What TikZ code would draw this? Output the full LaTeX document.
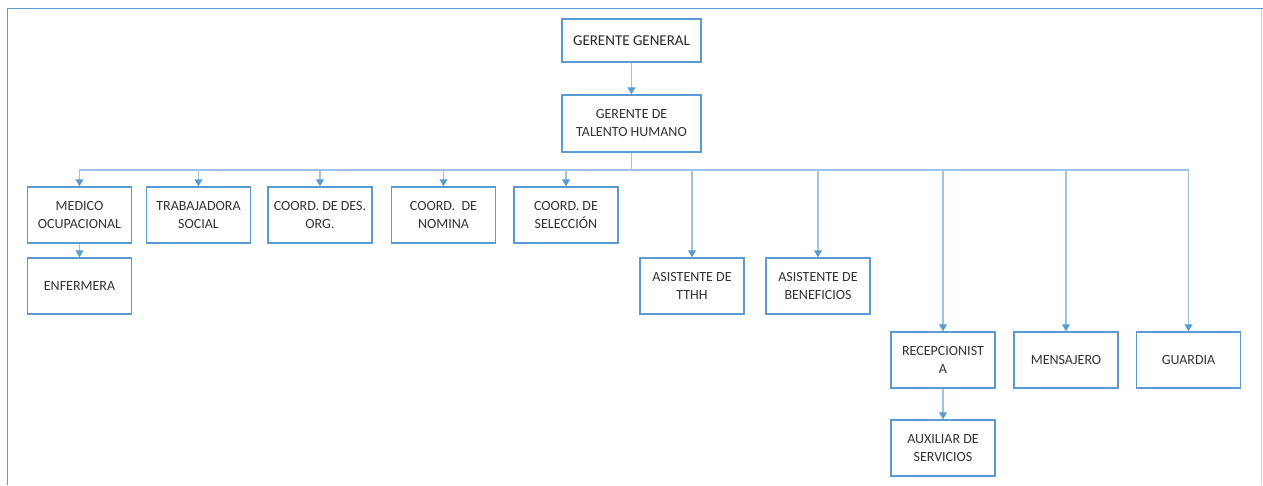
\documentclass[tikz,border=0pt]{standalone}
\usepackage{fontspec}
\setmainfont{Carlito}
\usetikzlibrary{arrows.meta}
\definecolor{boxblue}{HTML}{5B9BD5}
\definecolor{linkblue}{HTML}{9DC3E6}
\definecolor{edgeblue}{HTML}{BDD7EE}
\definecolor{txt}{HTML}{333333}

\begin{document}
\begin{tikzpicture}[x=1pt,y=-1pt,
  unit/.style={draw=boxblue, line width=1.5pt, fill=white,
    minimum width=104pt, minimum height=56pt, align=center, text=txt,
    font=\fontsize{14}{18}\selectfont, inner sep=0pt},
  link/.style={draw=linkblue, line width=1.2pt,
    -{Triangle[width=8pt,length=7pt,color=boxblue]}}]

\useasboundingbox (0,0) rectangle (1263,485);

% page frame
\draw[boxblue, line width=1.5pt] (7.5,485) -- (7.5,8.5) -- (1263,8.5);
\draw[edgeblue, line width=1.2pt] (1261.5,8.5) -- (1261.5,485);

% top management
\node[unit, minimum width=139pt, minimum height=43pt,
      font=\fontsize{15}{18}\selectfont, text=black!85] (gg) at (631.5,40.5) {GERENTE GENERAL};
\node[unit, minimum width=139pt, minimum height=57pt] (gth) at (631.5,123.5) {GERENTE DE\\TALENTO HUMANO};

% first row
\node[unit] (med)  at (79.5,215)  {MEDICO\\OCUPACIONAL};
\node[unit] (trab) at (198.5,215) {TRABAJADORA\\SOCIAL};
\node[unit] (des)  at (320,215)   {COORD. DE DES.\\ORG.};
\node[unit] (nom)  at (443.5,215) {COORD.\ \ DE\\NOMINA};
\node[unit] (sel)  at (566,215)   {COORD. DE\\SELECCIÓN};

% second row
\node[unit] (enf)   at (79.5,286) {ENFERMERA};
\node[unit] (tthh)  at (692,286)  {ASISTENTE DE\\TTHH};
\node[unit] (benef) at (818,286)  {ASISTENTE DE\\BENEFICIOS};

% third row
\node[unit] (recep) at (943,360)    {RECEPCIONIST\\A};
\node[unit] (mens)  at (1066,360)   {MENSAJERO};
\node[unit] (guard) at (1188.5,360) {GUARDIA};

% fourth row
\node[unit] (aux) at (943,448) {AUXILIAR DE\\SERVICIOS};

% connectors
\coordinate (bus) at (631.5,170);
\draw[link] (gg.south) -- (gth.north);
\foreach \c in {med,trab,des,nom,sel,tthh,benef,recep,mens,guard}
  \draw[link] (gth.south) |- (bus -| \c.north) -- (\c.north);
\draw[link] (med.south) -- (enf.north);
\draw[link] (recep.south) -- (aux.north);
\end{tikzpicture}
\end{document}
